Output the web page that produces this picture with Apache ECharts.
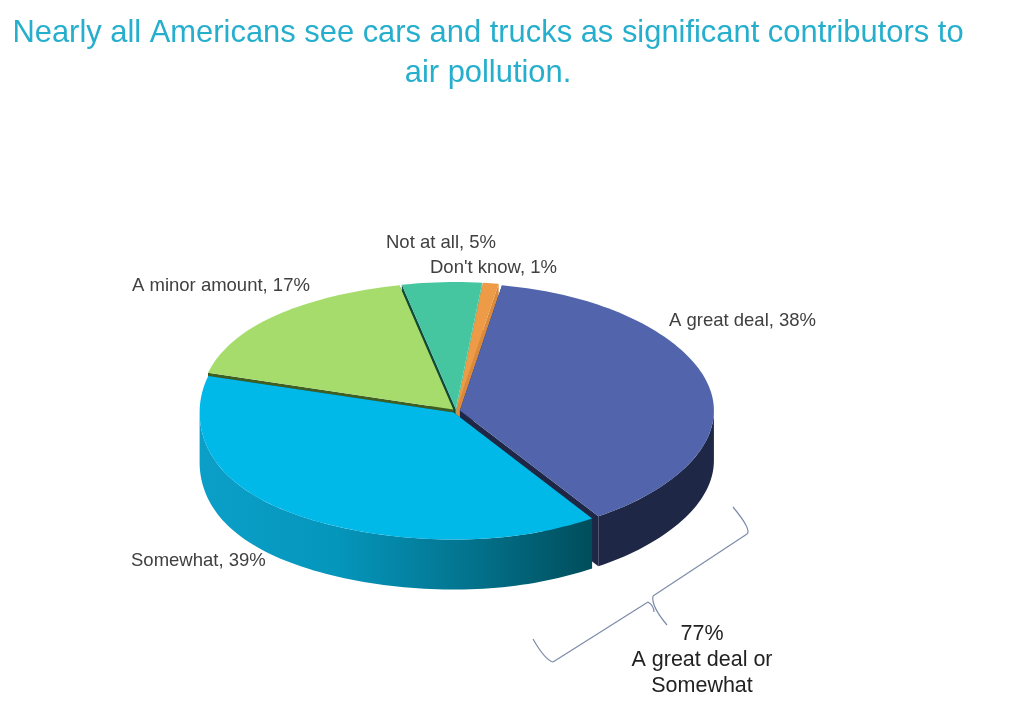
<!DOCTYPE html>
<html>
<head>
<meta charset="utf-8">
<style>html,body{margin:0;padding:0;background:#fff}#c{width:1024px;height:726px}</style>
<script src="https://cdn.jsdelivr.net/npm/echarts@6/dist/echarts.min.js"></script>
</head>
<body>
<div id="c"></div>
<script>
var titleLines = ['Nearly all Americans see cars and trucks as significant contributors to', 'air pollution.'];
var categories = ['A great deal', 'Somewhat', 'A minor amount', 'Not at all', "Don't know"];
var values = [38, 39, 17, 5, 1];
var topColors = ['#5265AC', '#00B9E8', '#A5DC6C', '#46C6A0', '#EE9B47'];
var startWallColors = ['#1F2747', '#00505E', '#3F5F22', '#0F4A3A', '#D98A3D'];
var endWallColors = ['#1F2747', '#00505E', '#3F5F22', '#46C6A0', '#D98A3D'];
var labelPositions = [[669, 321], [131, 561], [132, 286], [386, 243], [430, 268]];
var bracketNote = ['77%', 'A great deal or', 'Somewhat'];

var CX = 456, CY = 411, RX = 254, RY = 127, DEPTH = 50, GAP = 4, START = 9.6;
var EGG_LEFT = 7, EGG_RIGHT = 2.5;
var total = values.reduce(function (a, b) { return a + b; }, 0);
var spans = [], acc = START;
values.forEach(function (v) { var s = v / total * 360; spans.push([acc, acc + s]); acc += s; });
function pt(deg, ox, oy, dz) {
  var r = deg * Math.PI / 180, s2 = Math.sin(2 * r);
  var egg = (Math.sin(r) < 0 ? EGG_LEFT : EGG_RIGHT) * s2 * s2;
  return [CX + ox + RX * Math.sin(r) - egg, CY + oy - RY * Math.cos(r) + (dz || 0)];
}
function arc(a, b, ox, oy, dz) {
  var n = Math.max(2, Math.ceil((b - a) / 1.5)), out = [];
  for (var i = 0; i <= n; i++) out.push(pt(a + (b - a) * i / n, ox, oy, dz));
  return out;
}
// back-to-front paint order from each slice's mid angle
var order = values.map(function (_, i) { return i; }).sort(function (p, q) {
  var mp = (spans[p][0] + spans[p][1]) / 2 * Math.PI / 180, mq = (spans[q][0] + spans[q][1]) / 2 * Math.PI / 180;
  return -Math.cos(mp) - -Math.cos(mq);
});
var cyanSide = new echarts.graphic.LinearGradient(200, 0, 590, 0, [
  { offset: 0, color: '#0B9FC8' }, { offset: 0.35, color: '#0596BC' },
  { offset: 0.7, color: '#03728C' }, { offset: 1, color: '#004E5C' }], true);

function renderItem(params, api) {
  var i = api.value(1), sp = spans[i], mid = (sp[0] + sp[1]) / 2 * Math.PI / 180;
  var ox = GAP * Math.sin(mid), oy = -GAP * Math.cos(mid) * RY / RX;
  var tip = [CX + ox, CY + oy], kids = [], base = params.dataIndex * 10;
  var sideFill = i === 1 ? cyanSide : startWallColors[i];
  [[sp[0], startWallColors[i]], [sp[1], endWallColors[i]]].forEach(function (e) {
    var edge = pt(e[0], ox, oy);
    kids.push({ type: 'polygon', z2: base, shape: { points: [tip, edge, [edge[0], edge[1] + DEPTH], [tip[0], tip[1] + DEPTH]] },
      style: { fill: e[1] } });
  });
  var a = Math.max(sp[0], 90), b = Math.min(sp[1], 270);
  if (b > a) {
    kids.push({ type: 'polygon', z2: base + 1, shape: { points: arc(a, b, ox, oy, 0).concat(arc(a, b, ox, oy, DEPTH).reverse()) },
      style: { fill: sideFill } });
  }
  kids.push({ type: 'polygon', z2: base + 2, shape: { points: [tip].concat(arc(sp[0], sp[1], ox, oy, 0)) },
    style: { fill: topColors[i] } });
  return { type: 'group', children: kids };
}

var TEXT = '"Liberation Sans", Arial, sans-serif';
var graphics = [];
titleLines.forEach(function (t, k) {
  graphics.push({ type: 'text', x: 488, y: 33.5 + k * 40, style: { text: t, font: '30.9px ' + TEXT, fill: '#26AECD', textAlign: 'center', textVerticalAlign: 'middle' } });
});
categories.forEach(function (c, i) {
  graphics.push({ type: 'text', x: labelPositions[i][0], y: labelPositions[i][1],
    style: { text: c + ', ' + values[i] + '%', font: '18.5px ' + TEXT, fill: '#404040', textAlign: 'left', textVerticalAlign: 'middle' } });
});
bracketNote.forEach(function (t, k) {
  graphics.push({ type: 'text', x: 702, y: 634 + k * 26, style: { text: t, font: '21.5px ' + TEXT, fill: '#222', textAlign: 'center', textVerticalAlign: 'middle' } });
});
var bracketStyle = { fill: 'none', stroke: '#7C8CA8', lineWidth: 1.2 };
graphics.push(
  { type: 'bezierCurve', shape: { x1: 733, y1: 507, cpx1: 752, cpy1: 530, x2: 747, y2: 534 }, style: bracketStyle },
  { type: 'line', shape: { x1: 747, y1: 534, x2: 653, y2: 596 }, style: bracketStyle },
  { type: 'bezierCurve', shape: { x1: 653, y1: 596, cpx1: 651, cpy1: 606, x2: 667, y2: 625 }, style: bracketStyle },
  { type: 'bezierCurve', shape: { x1: 654, y1: 612, cpx1: 654, cpy1: 606, x2: 648, y2: 602 }, style: bracketStyle },
  { type: 'line', shape: { x1: 648, y1: 602, x2: 553, y2: 662 }, style: bracketStyle },
  { type: 'bezierCurve', shape: { x1: 553, y1: 662, cpx1: 545, cpy1: 660, x2: 533, y2: 639 }, style: bracketStyle }
);

var chart = echarts.init(document.getElementById('c'), null, { renderer: 'canvas' });
chart.setOption({
  animation: false,
  backgroundColor: '#fff',
  series: [{ type: 'custom', coordinateSystem: 'none', renderItem: renderItem, silent: true,
    data: order.map(function (i) { return [values[i], i]; }) }],
  graphic: graphics
});
</script>
</body>
</html>
